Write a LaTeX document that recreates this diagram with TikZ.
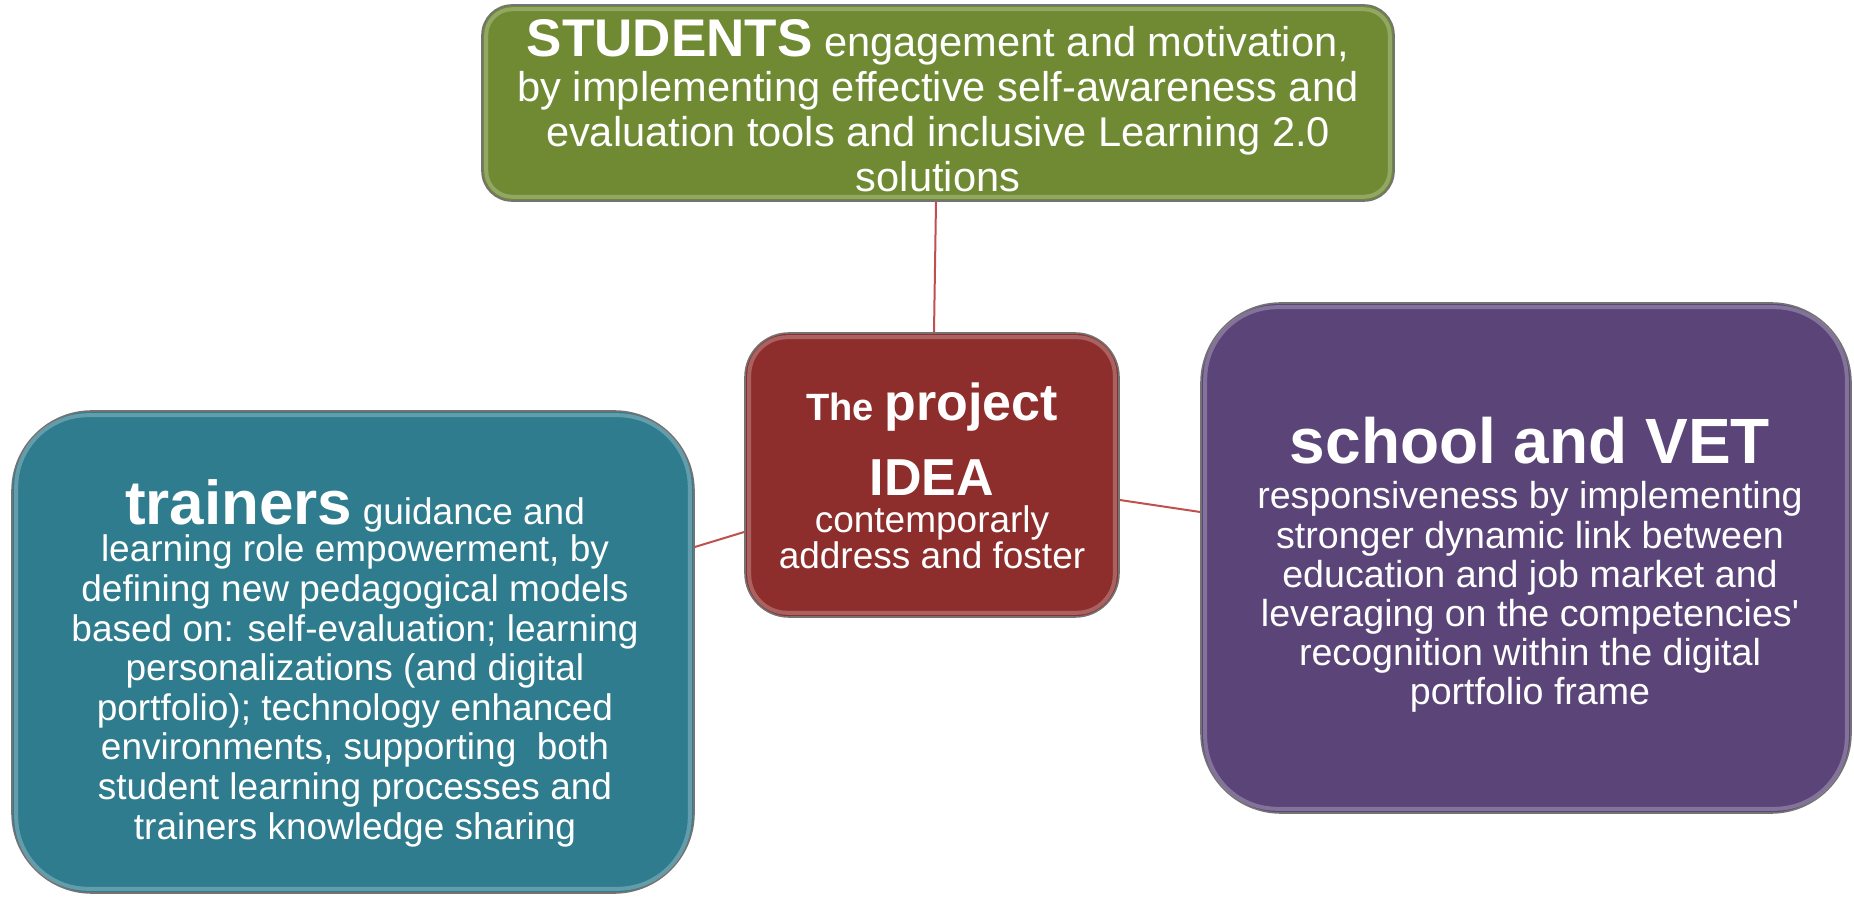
\documentclass[tikz,border=0pt]{standalone}
\usepackage{fontspec}
\setmainfont{Liberation Sans}
\definecolor{cgreen}{HTML}{6F8A32}
\definecolor{cred}{HTML}{8E2E2C}
\definecolor{cteal}{HTML}{2F7C8E}
\definecolor{cpurple}{HTML}{5A4478}
\definecolor{cline}{HTML}{C0504D}
\tikzset{
  boxbase/.style={rectangle, draw=black!55, line width=0.8pt, text=white, align=center, inner sep=0pt},
  conn/.style={draw=cline, line width=1pt},
}
\begin{document}
\begin{tikzpicture}[x=0.5pt,y=-0.5pt]
\useasboundingbox (0,0) rectangle (1854,897);
% boxes
\node[boxbase, fill=cgreen, rounded corners=15pt, minimum width=456pt, minimum height=98pt] (students) at (938,103) {};
\node[boxbase, fill=cred, rounded corners=22pt, minimum width=187pt, minimum height=142pt] (idea) at (932,475) {};
\node[boxbase, fill=cteal, rounded corners=40pt, minimum width=341pt, minimum height=241pt] (trainers) at (353,652) {};
\node[boxbase, fill=cpurple, rounded corners=40pt, minimum width=325pt, minimum height=255pt] (school) at (1526,558) {};
% inner bevel highlights
\foreach \n/\r in {students/13pt, idea/19pt, trainers/36pt, school/36pt}{
  \draw[white, opacity=0.25, line width=2pt, rounded corners=\r]
    ([shift={(5,5)}]\n.north west) rectangle ([shift={(-5,-5)}]\n.south east);
}
% texts
\node[text=white, align=center, font=\fontsize{20.8}{22.5}\selectfont] (studentstxt) at (938,106)
  {{\fontsize{26.5}{22.5}\selectfont\bfseries STUDENTS} engagement and motivation,\\
   by implementing effective self-awareness and\\
   evaluation tools and inclusive Learning 2.0\\
   solutions};
\node[text=white, align=center, font=\fontsize{18.5}{17.8}\selectfont] (ideatxt) at (932,476)
  {{\fontsize{19}{20}\selectfont\bfseries The} {\fontsize{26}{20}\selectfont\bfseries project}\\[13pt]
   {\fontsize{26}{24}\selectfont\bfseries IDEA}\\[1pt]
   contemporarly\\
   address and foster};
\node[text=white, align=center, font=\fontsize{18.5}{19.8}\selectfont] (trainerstxt) at (355,663)
  {{\fontsize{31}{20}\selectfont\bfseries trainers} guidance and\\[-1pt]
   learning role empowerment, by\\
   defining new pedagogical models\\
   based on: self-evaluation; learning\\
   personalizations (and digital\\
   portfolio); technology enhanced\\
   environments, supporting\ \ both\\
   student learning processes and\\
   trainers knowledge sharing};
\node[text=white, align=center, font=\fontsize{18.8}{19.6}\selectfont] (schooltxt) at (1530,565)
  {{\fontsize{32}{24}\selectfont\bfseries school and VET}\\[3pt]
   responsiveness by implementing\\
   stronger dynamic link between\\
   education and job market and\\
   leveraging on the competencies\textquotesingle\\
   recognition within the digital\\
   portfolio frame};
% connectors
\draw[conn] (students.south -| 936,0) -- (idea.north -| 934,0);
\draw[conn] (trainers.east |- 0,547) -- (idea.west |- 0,532);
\draw[conn] (idea.east |- 0,500) -- (school.west |- 0,512);
\end{tikzpicture}
\end{document}
